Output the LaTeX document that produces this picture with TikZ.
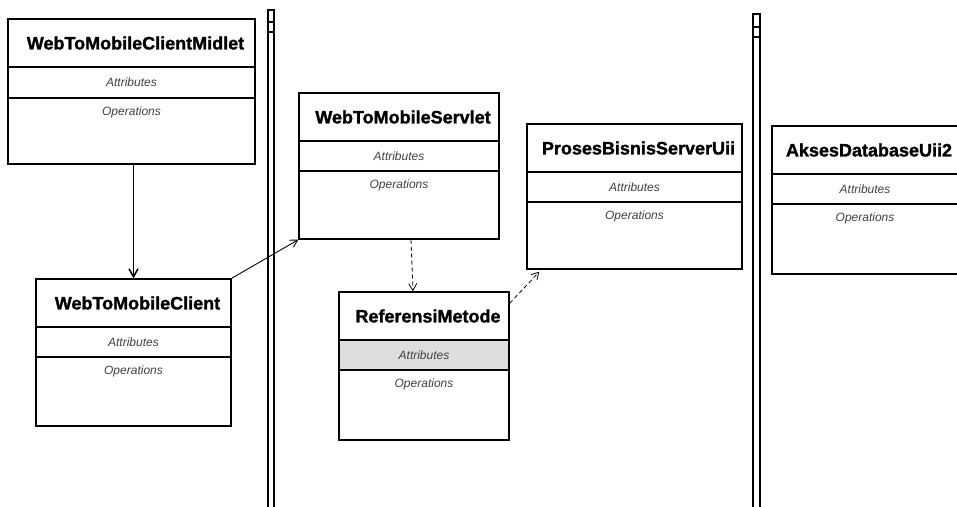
\documentclass[tikz,border=0pt]{standalone}
\usepackage{fontspec}
\setmainfont{Liberation Sans}
\newfontfamily\heavyfont[FakeBold=1.4]{Liberation Sans Bold}
\usetikzlibrary{arrows.meta,fit,calc}

\tikzset{
  classbox/.style={draw, line width=1.4pt, fill=white, inner sep=0pt},
  part/.style={line width=1.3pt},
  titletext/.style={font=\fontsize{18}{20}\heavyfont, inner sep=0pt},
  membertext/.style={font=\fontsize{12}{14}\selectfont\itshape, text=black!75, inner sep=0pt},
  assoc/.style={line width=1.5pt, -{Straight Barb[length=8pt,width=9pt]}},
  navline/.style={line width=0.9pt, -{Straight Barb[length=7pt,width=8pt]}},
  depend/.style={line width=0.8pt, dash pattern=on 4pt off 3pt, -{Straight Barb[length=7pt,width=8pt]}},
  lane/.style={line width=1.2pt},
  plain row/.style={fill=white},
  shaded row/.style={fill=black!13},
}

% class box: name, x1, y1, x2, y2, header bottom, attributes bottom, title, attributes row style
\newcommand\umlclass[9]{%
  \node[classbox, fit={(#2,#3)(#4,#5)}] (#1) {};
  \fill[#9] ({#2+1},{#6+1}) rectangle ({#4-1},{#7-1});
  \draw[part] (#2,#6) -- (#4,#6);
  \draw[part] (#2,#7) -- (#4,#7);
  \node[titletext] (#1-title) at ({(#2+#4)/2+4},{(#3+#6)/2}) {#8};
  \node[membertext] (#1-attr) at ({(#2+#4)/2},{(#6+#7)/2}) {Attributes};
  \node[membertext] (#1-ops) at ({(#2+#4)/2},{#7+14}) {Operations};
}

\begin{document}
\begin{tikzpicture}[x=1pt, y=-1pt]
  \useasboundingbox (0,0) rectangle (957,506);
  \fill[white] (0,0) rectangle (957,506);

  % swimlane separators
  \draw[lane] (268,10) rectangle (274,515);
  \draw[lane] (268,22) -- (274,22);
  \draw[lane] (268,32) -- (274,32);
  \draw[lane] (753,14) rectangle (760,515);
  \draw[lane] (753,27) -- (760,27);
  \draw[lane] (753,37) -- (760,37);

  % classes
  \umlclass{mid}{8}{19}{255}{164}{67}{98}{WebToMobileClientMidlet}{plain row}
  \umlclass{srv}{299}{93}{499}{239}{141}{171}{WebToMobileServlet}{plain row}
  \umlclass{pbs}{527}{124}{742}{269}{172}{202}{ProsesBisnisServerUii}{plain row}
  \umlclass{adb}{772}{126}{958}{274}{174}{204}{AksesDatabaseUii2}{plain row}
  \umlclass{cli}{36}{279}{231}{426}{327}{357}{WebToMobileClient}{plain row}
  \umlclass{ref}{339}{292}{509}{440}{340}{370}{ReferensiMetode}{shaded row}

  % connectors
  \draw[assoc] (cli.north |- mid.south) -- (cli.north);
  \draw[navline] (cli.north east) -- (srv.south west);
  \draw[depend] ($(srv.south)+(12,0)$) -- ($(ref.north)+(-11,0)$);
  \draw[depend] ($(ref.north east)+(0,12)$) -- ($(pbs.south west)+(13,2)$);
\end{tikzpicture}
\end{document}
